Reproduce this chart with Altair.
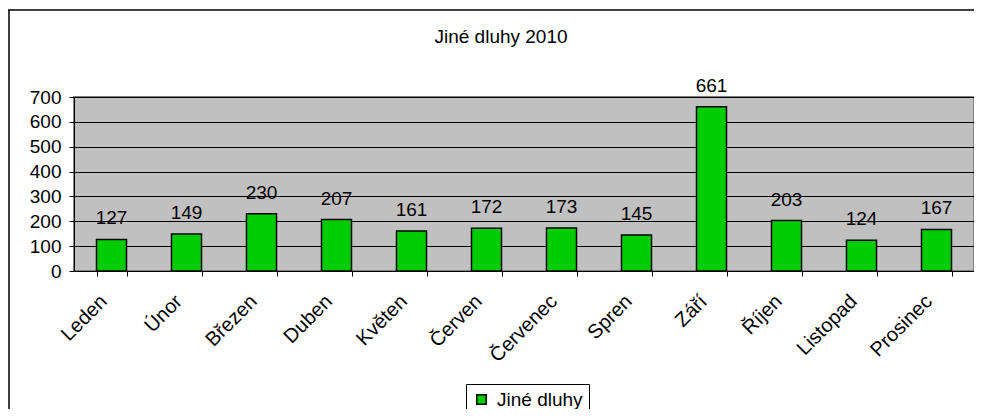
import altair as alt
import pandas as pd

months = ["Leden", "Únor", "Březen", "Duben", "Květen", "Červen",
          "Červenec", "Spren", "Září", "Říjen", "Listopad", "Prosinec"]
values = [127, 149, 230, 207, 161, 172, 173, 145, 661, 203, 124, 167]
series = "Jiné dluhy"
title = "Jiné dluhy 2010"
y_ticks = [0, 100, 200, 300, 400, 500, 600, 700]

df = pd.DataFrame({"month": months, "value": values, "series": [series] * len(months)})
one = pd.DataFrame({"t": [title]})

FONT = "Liberation Sans"
W, H = 900, 174

base = alt.Chart(df)

x_enc = alt.X("month:N", sort=months,
              scale=alt.Scale(paddingInner=0.6, paddingOuter=0.3),
              axis=alt.Axis(title=None, labelAngle=-45, labelAlign="right",
                            labelBaseline="middle", labelPadding=22, labelOffset=-8,
                            tickBand="extent", tickSize=5, tickColor="#000000",
                            domainColor="#000000", labelFontSize=20, labelFont=FONT,
                            labelColor="#000000", labelOverlap=False, grid=False))
y_enc = alt.Y("value:Q", scale=alt.Scale(domain=[0, 700], nice=False),
              axis=alt.Axis(title=None, values=y_ticks, labelOverlap=False,
                            tickSize=5, tickColor="#000000",
                            domainColor="#000000", labelFontSize=19, labelFont=FONT,
                            labelColor="#000000", labelPadding=8,
                            grid=True, gridColor="#000000", gridWidth=1))

border_top = alt.Chart(one).mark_rule(color="#000000", strokeWidth=1.5).encode(
    x=alt.value(-66), x2=alt.value(W), y=alt.value(-87))
border_left = alt.Chart(one).mark_rule(color="#000000", strokeWidth=1.5).encode(
    x=alt.value(-65), y=alt.value(-87), y2=alt.value(H + 138))

bars = base.mark_bar(stroke="#000000", strokeWidth=1.5).encode(
    x=x_enc, y=y_enc,
    color=alt.Color("series:N", scale=alt.Scale(domain=[series], range=["#00CC00"]),
                    legend=alt.Legend(title=None, orient="none", legendX=392, legendY=287,
                                      symbolType="square", symbolSize=90,
                                      symbolStrokeColor="#000000", symbolStrokeWidth=1.5,
                                      labelFontSize=19, labelFont=FONT, labelColor="#000000",
                                      strokeColor="#000000", fillColor="#FFFFFF",
                                      padding=6, labelOffset=6)))

labels = base.mark_text(baseline="alphabetic", dy=-15, fontSize=19, font=FONT,
                        color="#000000").encode(
    x=x_enc, y=y_enc, text="value:Q")

title_text = alt.Chart(one).mark_text(fontSize=19, font=FONT, color="#000000",
                                      baseline="alphabetic", align="center").encode(
    x=alt.value(427), y=alt.value(-54), text="t:N")

chart = alt.layer(border_top, border_left, bars, labels, title_text).properties(
    width=W, height=H,
    padding={"left": 66, "top": 89, "right": 0, "bottom": 138},
    autosize=alt.AutoSizeParams(type="none"),
    view=alt.ViewBackground(fill="#C0C0C0", stroke="#808080", strokeWidth=2),
).configure(background="#FFFFFF")

chart.save("out.html", embed_options={"renderer": "svg", "actions": False})
